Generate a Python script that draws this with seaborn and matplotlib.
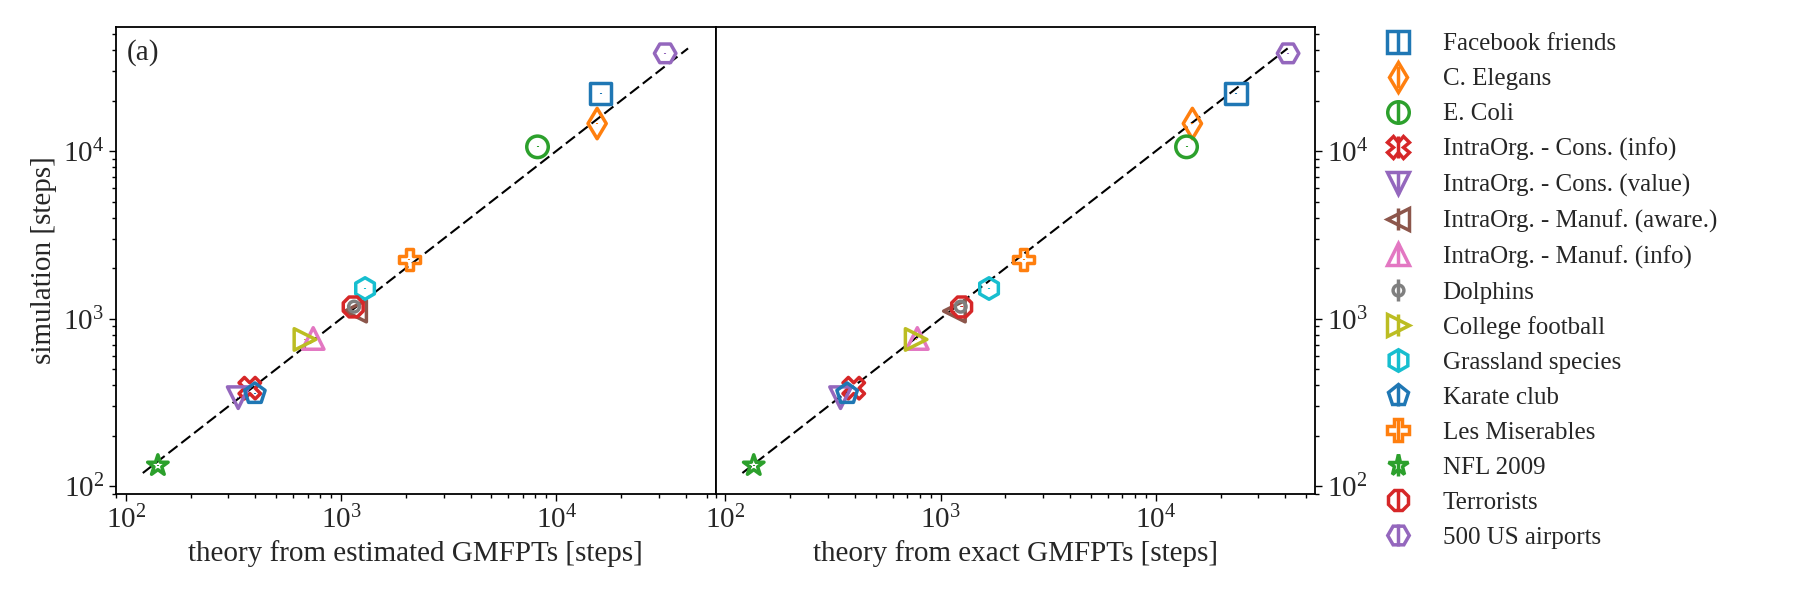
import pandas as pd
import matplotlib
matplotlib.use("Agg")
import matplotlib.pyplot as plt
from matplotlib.lines import Line2D
from matplotlib.legend_handler import HandlerTuple
import seaborn as sns

# Dados
networks = [
    "Facebook friends", "C. Elegans", "E. Coli",
    "IntraOrg. - Cons. (info)", "IntraOrg. - Cons. (value)",
    "IntraOrg. - Manuf. (aware.)", "IntraOrg. - Manuf. (info)",
    "Dolphins", "College football", "Grassland species", "Karate club",
    "Les Miserables", "NFL 2009", "Terrorists", "500 US airports",
]
markers = ["s", "d", "o", "X", "v", "<", "^", ".", ">", "h", "p", "P", "*", "8", "H"]
colors = ["#1f77b4", "#ff7f0e", "#2ca02c", "#d62728", "#9467bd",
          "#8c564b", "#e377c2", "#7f7f7f", "#bcbd22", "#17becf",
          "#1f77b4", "#ff7f0e", "#2ca02c", "#d62728", "#9467bd"]

theory_estimated = [16100, 15500, 8190, 377, 333, 1170, 743, 1150, 680, 1294, 398, 2080, 141, 1140, 32100]
theory_exact = [23600, 14800, 13900, 395, 343, 1160, 780, 1240, 770, 1680, 368, 2430, 135.5, 1253, 41200]
simulation = [22100, 14600, 10600, 385, 338, 1110, 762, 1180, 752, 1514, 357, 2250, 133, 1175, 38300]
simulation_err = [150, 100, 70, 3, 3, 8, 5, 8, 5, 10, 3, 15, 1, 8, 250]

diagonal = [120, 41000]
axis_limits = (90, 55000)

# Configuração visual
sns.set_theme(style="ticks")
plt.rcParams["font.family"] = ["Liberation Serif", "DejaVu Serif"]
plt.rcParams["mathtext.fontset"] = "stix"
plt.rcParams["axes.linewidth"] = 1.3
plt.rcParams["axes.edgecolor"] = "black"

df = pd.DataFrame({
    "network": networks,
    "estimated": theory_estimated,
    "exact": theory_exact,
    "simulation": simulation,
    "err": simulation_err,
})
marker_map = dict(zip(networks, markers))

fig, axes = plt.subplots(1, 2, figsize=(18, 6), dpi=100, sharey=True)
fig.subplots_adjust(left=0.0644, right=0.7306, bottom=0.1767, top=0.955, wspace=0)

for ax, col in zip(axes, ["estimated", "exact"]):
    sns.lineplot(x=diagonal, y=diagonal, ax=ax, color="black",
                 linestyle=(0, (5.5, 2.3)), linewidth=1.5, zorder=1)
    ax.vlines(df[col], df["simulation"] - df["err"], df["simulation"] + df["err"],
              colors=colors, linewidth=1.5, zorder=2)
    sns.scatterplot(data=df, x=col, y="simulation", hue="network", style="network",
                    hue_order=networks, style_order=networks, palette=colors,
                    markers=marker_map, s=240, linewidth=2.5, legend=False,
                    ax=ax, zorder=3)
    # marcadores vazados
    pts = ax.collections[-1]
    pts.set_edgecolors(pts.get_facecolors())
    pts.set_facecolors("none")
    pts.set_linewidths(2.5)

    ax.set_xscale("log")
    ax.set_yscale("log")
    ax.set_xlim(axis_limits)
    ax.set_ylim(axis_limits)
    ax.tick_params(which="both", direction="out", labelsize=21, width=1, color="black")
    ax.tick_params(which="major", length=5)
    ax.tick_params(which="minor", length=3)

axes[0].set_xlabel("theory from estimated GMFPTs [steps]", fontsize=21)
axes[0].set_ylabel("simulation [steps]", fontsize=21)
axes[1].set_xlabel("theory from exact GMFPTs [steps]", fontsize=21)
axes[1].set_ylabel("")
axes[1].yaxis.tick_right()
axes[1].yaxis.set_label_position("right")
axes[1].tick_params(axis="y", which="both", labelright=True, labelleft=False)

axes[0].text(0.018, 0.975, "(a)", transform=axes[0].transAxes, ha="left", va="top", fontsize=21)

# Legenda com barra vertical (estilo errorbar)
handles = []
for m, c in zip(markers, colors):
    mk = Line2D([], [], ls="none", marker=m, ms=15.5, mew=2.5, mfc="none", mec=c)
    bar = Line2D([], [], ls="none", marker="|", ms=15.5, mew=2.5, color=c)
    handles.append((mk, bar))

fig.legend(handles, networks, handler_map={tuple: HandlerTuple(ndivide=1)},
           loc="upper left", bbox_to_anchor=(0.757, 0.962), frameon=False,
           fontsize=18, labelspacing=0.5, borderaxespad=0)

plt.savefig("out.png", dpi=100)
plt.close()
